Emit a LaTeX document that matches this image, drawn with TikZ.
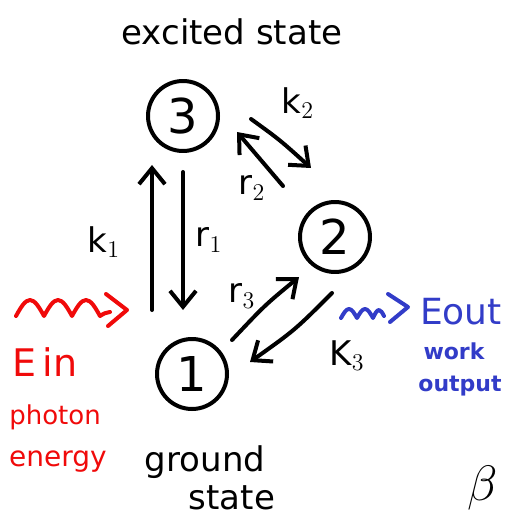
\documentclass[tikz,border=0pt]{standalone}
\usepackage{fontspec}
\setmainfont{DejaVu Sans}
\usetikzlibrary{arrows.meta}
\definecolor{inred}{RGB}{240,10,10}
\definecolor{outblue}{RGB}{50,60,200}
\tikzset{
  stroke/.style={line width=2pt, line cap=round, line join=round},
  statecirc/.style={circle, draw, stroke, minimum size=35pt, inner sep=0pt, font=\fontsize{24}{26}\selectfont},
  trans/.style={stroke, -{Straight Barb[length=8pt,width=13pt,line width=2pt]}},
  lbl/.style={font=\fontsize{17}{20}\selectfont},
  redtxt/.style={text=inred},
  bluetxt/.style={text=outblue},
}
\begin{document}
\begin{tikzpicture}[x=0.5pt,y=-0.5pt]
\useasboundingbox (0,0) rectangle (506,529);
% states
\node[statecirc] (s3) at (183,116) {3};
\node[statecirc] (s2) at (335,237) {2};
\node[statecirc] (s1) at (192,374) {1};
% arrow anchor coordinates
\coordinate (k1a) at (152,310); \coordinate (k1b) at (152,165);
\coordinate (r1a) at (183,172); \coordinate (r1b) at (183,310);
\coordinate (k2a) at (251,119); \coordinate (k2b) at (311,168);
\coordinate (r2a) at (283,186); \coordinate (r2b) at (237,132);
\coordinate (r3a) at (232,340); \coordinate (r3b) at (299,277);
\coordinate (k3a) at (332,293); \coordinate (k3b) at (250,362);
\draw[trans] (k1a) -- (k1b);
\draw[trans] (r1a) -- (r1b);
\draw[trans] (k2a) .. controls (280,140) .. (k2b);
\draw[trans] (r2a) -- (r2b);
\draw[trans] (r3a) .. controls (265,305) .. (r3b);
\draw[trans] (k3a) .. controls (295,330) .. (k3b);
% transition labels
\node[lbl] (lk1) at (104,242) {k$_1$};
\node[lbl] (lr1) at (209,240) {r$_1$};
\node[lbl] (lk2) at (298,103) {k$_2$};
\node[lbl] (lr2) at (252,188) {r$_2$};
\node[lbl] (lr3) at (242,296) {r$_3$};
\node[lbl] (lk3) at (347,356) {K$_3$};
% titles
\node[font=\fontsize{17}{20}\selectfont] (exc) at (232,32) {excited state};
\node[font=\fontsize{17}{20}\selectfont] (gnd) at (205,462) {ground};
\node[font=\fontsize{17}{20}\selectfont] (gst) at (232,498) {state};
\node[font=\fontsize{24}{26}\selectfont] (beta) at (483,488) {$\beta$};
% photon in (red)
\coordinate (win) at (16,316);
\coordinate (winend) at (110,312);
\draw[stroke, inred] (win) sin (30,300) cos (44,316) sin (58,300) cos (72,316) sin (86,300) cos (100,316) sin (winend);
\coordinate (rtip) at (127,310);
\draw[stroke, inred] (106,294) -- (rtip) -- (108,326);
\node[font=\fontsize{19}{22}\selectfont, redtxt] (ein) at (45,362) {E\,in};
\node[font=\fontsize{13}{16}\selectfont, redtxt] (pho) at (55,417) {photon};
\node[font=\fontsize{14}{17}\selectfont, redtxt] (ene) at (58,462) {energy};
% work out (blue)
\coordinate (wout) at (341,318);
\coordinate (woutend) at (384,316);
\draw[stroke, outblue] (wout) sin (349,309) cos (357,318) sin (365,309) cos (373,318) sin (379,310) cos (woutend);
\coordinate (btip) at (408,307);
\draw[stroke, outblue] (388,294) -- (btip) -- (390,322);
\node[font=\fontsize{18}{22}\selectfont, bluetxt] (eout) at (461,312) {Eout};
\node[font=\fontsize{11}{13}\bfseries\selectfont, bluetxt] (work) at (454,351) {work};
\node[font=\fontsize{11}{13}\bfseries\selectfont, bluetxt] (outp) at (460,386) {output};
\end{tikzpicture}
\end{document}
